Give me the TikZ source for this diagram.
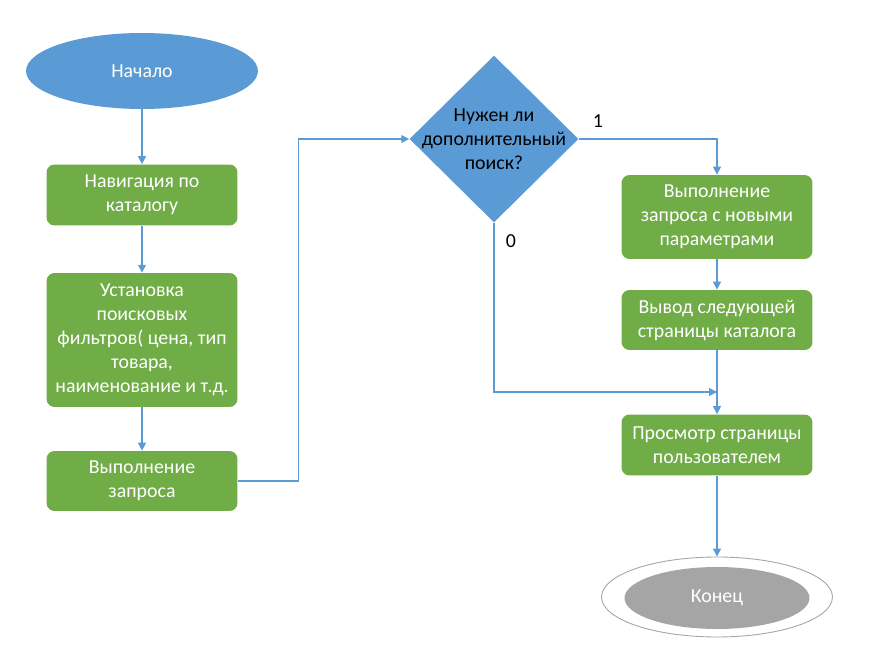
\documentclass[tikz,border=0pt]{standalone}
\usepackage{fontspec}
\setmainfont{Carlito}
\usetikzlibrary{shapes.geometric,arrows.meta}
\definecolor{blockgreen}{HTML}{70AD47}
\definecolor{blockblue}{HTML}{5B9BD5}
\definecolor{blockgray}{HTML}{A5A5A5}
\begin{document}
\begin{tikzpicture}[x=0.02cm, y=-0.02cm, font=\fontsize{11.3}{13.6}\selectfont,
	proc/.style={rectangle, rounded corners=1.6mm, fill=blockgreen, text=white, minimum width=3.82cm, align=center, inner sep=0},
	term/.style={ellipse, inner sep=0, text=white},
	link/.style={draw=blockblue, line width=0.6pt, -{Triangle[length=4.5pt, width=4.5pt]}}]
	\useasboundingbox (0,0) rectangle (880,655);
	% left column
	\node[term, fill=blockblue, minimum width=4.64cm, minimum height=1.52cm] (start) at (142,71) {Начало};
	\node[proc, minimum height=1.22cm] (nav) at (142,195) {Навигация по\\каталогу};
	\node[proc, minimum height=2.68cm] (filt) at (142,340) {Установка\\поисковых\\фильтров( цена, тип\\товара,\\наименование и т.д.};
	\node[proc, minimum height=1.2cm] (req) at (142,481) {Выполнение\\запроса};
	% decision
	\node[diamond, aspect=1, fill=blockblue, minimum width=3.38cm, minimum height=3.34cm, inner sep=0] (dec) at (494,139) {};
	\node[align=center] (dectext) at (dec.center) {Нужен ли\\дополнительный\\поиск?};
	\node (one) at (598,121) {1};
	\node (zero) at (511,241) {0};
	% right column
	\node[proc, minimum height=1.68cm] (newreq) at (717,217) {Выполнение\\запроса с новыми\\параметрами};
	\node[proc, minimum height=1.2cm] (next) at (717,320) {Вывод следующей\\страницы каталога};
	\node[proc, minimum height=1.22cm] (view) at (717,445) {Просмотр страницы\\пользователем};
	\node[ellipse, draw=blockgray, line width=0.5pt, fill=white, minimum width=4.62cm, minimum height=1.6cm, inner sep=0] (endo) at (717,597) {};
	\node[term, fill=blockgray, minimum width=3.7cm, minimum height=1.24cm] (end) at (717,598) {Конец};
	\coordinate (merge) at (717,392);
	% connectors
	\draw[link] (start) -- (nav);
	\draw[link] (nav) -- (filt);
	\draw[link] (filt) -- (req);
	\draw[link] (req.east) -- ++(61,0) |- (dec.west);
	\draw[link] (dec.east) -| (newreq.north);
	\draw[link] (newreq) -- (next);
	\draw[link] (next) -- (view);
	\draw[link] (dec.south) |- (merge);
	\draw[link] (view) -- (endo);
\end{tikzpicture}
\end{document}
